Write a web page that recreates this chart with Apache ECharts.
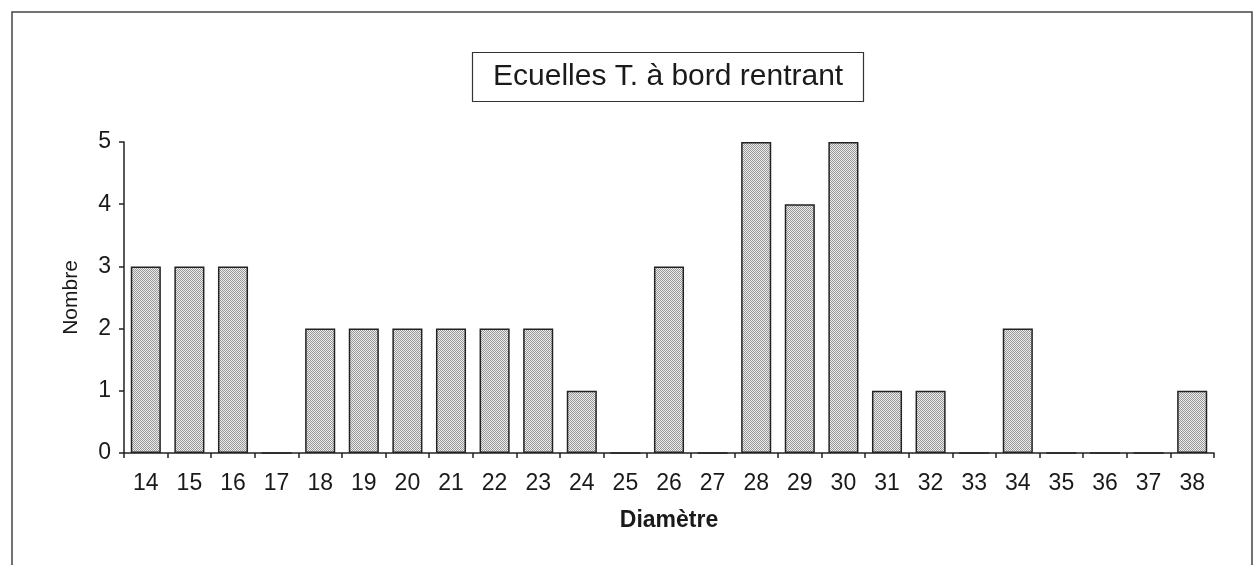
<!DOCTYPE html>
<html>
<head>
<meta charset="utf-8">
<script src="https://cdn.jsdelivr.net/npm/echarts@6/dist/echarts.min.js"></script>
<style>
html,body{margin:0;padding:0;background:#fff;}
#chart{width:1257px;height:565px;}
</style>
</head>
<body>
<div id="chart"></div>
<script>
const titleText = 'Ecuelles T. à bord rentrant';
const xAxisName = 'Diamètre';
const yAxisName = 'Nombre';
const categories = ['14','15','16','17','18','19','20','21','22','23','24','25','26','27','28','29','30','31','32','33','34','35','36','37','38'];
const counts = [3,3,3,0,2,2,2,2,2,2,1,0,3,0,5,4,5,1,1,0,2,0,0,0,1];
const yTicks = [0,1,2,3,4,5];

// dotted fill pattern
const pat = document.createElement('canvas');
pat.width = 2; pat.height = 2;
const pc = pat.getContext('2d');
pc.fillStyle = '#ebebeb'; pc.fillRect(0,0,2,2);
pc.fillStyle = '#999999'; pc.fillRect(0,0,1,1); pc.fillRect(1,1,1,1);

const FONT = 'Liberation Sans';
const chart = echarts.init(document.getElementById('chart'), null, {renderer:'canvas'});
chart.setOption({
  animation:false,
  backgroundColor:'#fff',
  title:{
    text:titleText,
    left:472, top:52,
    padding:[8,21],
    borderColor:'#333', borderWidth:1.2,
    textStyle:{fontFamily:FONT, fontSize:30, fontWeight:'normal', color:'#1a1a1a', lineHeight:34}
  },
  graphic:[{
    type:'rect', shape:{x:12,y:12,width:1240,height:620},
    style:{fill:'none', stroke:'#444', lineWidth:1.5}, silent:true
  }],
  grid:{left:124, right:43, top:142, bottom:112},
  xAxis:{
    type:'category', data:categories,
    name:xAxisName, nameLocation:'middle', nameGap:56,
    nameTextStyle:{fontFamily:FONT, fontSize:23, fontWeight:'bold', color:'#1a1a1a'},
    axisLine:{lineStyle:{color:'#222', width:1.5}},
    axisTick:{show:true, alignWithLabel:false, length:5, lineStyle:{color:'#222', width:1.5}},
    axisLabel:{fontFamily:FONT, fontSize:23, color:'#1a1a1a', margin:19, interval:0}
  },
  yAxis:{
    type:'value', min:0, max:5, interval:1,
    name:yAxisName, nameLocation:'middle', nameGap:42, nameRotate:90,
    nameTextStyle:{fontFamily:FONT, fontSize:21, color:'#1a1a1a'},
    axisLine:{show:true, lineStyle:{color:'#222', width:1.5}},
    axisTick:{show:true, length:5, lineStyle:{color:'#222', width:1.5}},
    axisLabel:{fontFamily:FONT, fontSize:23, color:'#1a1a1a', margin:13,
      formatter:function(v){return yTicks.indexOf(v)>=0 ? String(v) : '';}},
    splitLine:{show:false}
  },
  series:[{
    type:'bar', data:counts,
    barCategoryGap:'31%',
    itemStyle:{color:{image:pat, repeat:'repeat'}, borderColor:'#222', borderWidth:1.5}
  }]
});
</script>
</body>
</html>
